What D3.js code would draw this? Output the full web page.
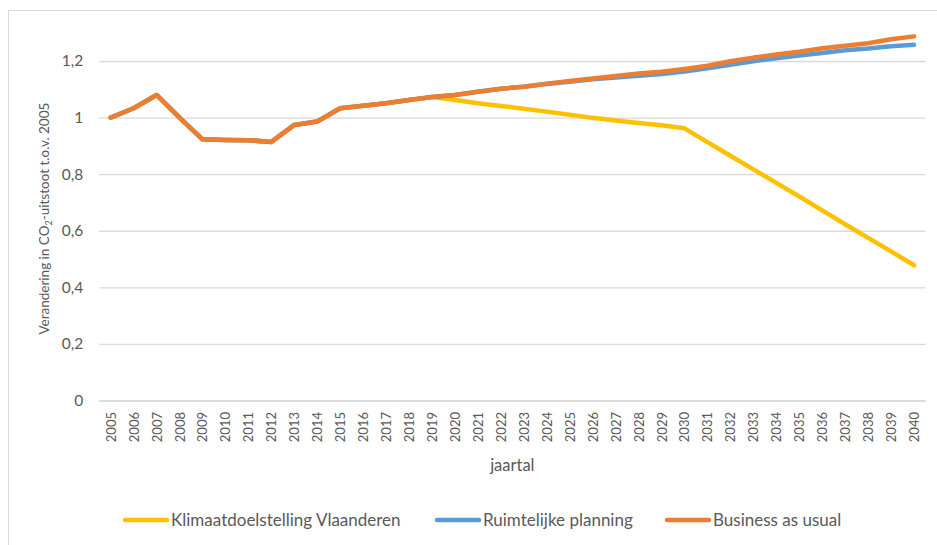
<!DOCTYPE html>
<html>
<head>
<meta charset="utf-8">
<script src="https://cdn.jsdelivr.net/npm/d3@7"></script>
<style>
  html, body { margin: 0; padding: 0; background: #fff; }
  svg { display: block; }
  text { font-family: Lato, "Open Sans", sans-serif; fill: #595959; }
</style>
</head>
<body>
<svg id="chart" width="937" height="545"></svg>
<script>
// Categories (years)
const years = [2005, 2006, 2007, 2008, 2009, 2010, 2011, 2012, 2013, 2014,
  2015, 2016, 2017, 2018, 2019, 2020, 2021, 2022, 2023, 2024,
  2025, 2026, 2027, 2028, 2029, 2030, 2031, 2032, 2033, 2034,
  2035, 2036, 2037, 2038, 2039, 2040];

// CO2 emissions relative to 2005
const klimaatdoelstelling = [1.000, 1.033, 1.080, 1.000, 0.923, 0.921, 0.920, 0.914, 0.974, 0.986,
  1.033, 1.042, 1.051, 1.062, 1.073, 1.062, 1.051, 1.041, 1.031, 1.021,
  1.010, 0.999, 0.990, 0.981, 0.973, 0.962, 0.913, 0.865, 0.817, 0.769,
  0.721, 0.672, 0.623, 0.575, 0.527, 0.478];

const ruimtelijkePlanning = [1.000, 1.033, 1.080, 1.000, 0.923, 0.921, 0.920, 0.914, 0.974, 0.986,
  1.033, 1.042, 1.051, 1.062, 1.073, 1.080, 1.091, 1.102, 1.109, 1.119,
  1.127, 1.135, 1.142, 1.148, 1.154, 1.163, 1.174, 1.187, 1.199, 1.210,
  1.219, 1.228, 1.238, 1.244, 1.252, 1.257];

const businessAsUsual = [1.000, 1.033, 1.080, 1.000, 0.923, 0.921, 0.920, 0.914, 0.974, 0.986,
  1.033, 1.042, 1.051, 1.062, 1.073, 1.080, 1.091, 1.102, 1.109, 1.120,
  1.129, 1.138, 1.147, 1.156, 1.162, 1.172, 1.183, 1.199, 1.212, 1.223,
  1.233, 1.245, 1.254, 1.263, 1.277, 1.287];

const seriesNames = ["Klimaatdoelstelling Vlaanderen", "Ruimtelijke planning", "Business as usual"];
const seriesColors = ["#FFC000", "#5B9BD5", "#ED7D31"];
const seriesValues = [klimaatdoelstelling, ruimtelijkePlanning, businessAsUsual];

// Value axis ticks
const yTicks = [0, 0.2, 0.4, 0.6, 0.8, 1.0, 1.2];
const yMax = 1.3;

const svg = d3.select("#chart");

// Chart area frame
svg.append("rect")
  .attr("x", 8.5).attr("y", 10.5)
  .attr("width", 960).attr("height", 560)
  .attr("fill", "#fff").attr("stroke", "#d9d9d9").attr("stroke-width", 1);

const plot = { left: 99.2, right: 925.5, top: 32.7, bottom: 400.5 };

const x = d3.scalePoint()
  .domain(years)
  .range([plot.left, plot.right])
  .padding(0.5);

const y = d3.scaleLinear()
  .domain([0, yMax])
  .range([plot.bottom, plot.top]);

const nl = d3.formatLocale({ decimal: ",", thousands: ".", grouping: [3], currency: ["€", ""] });
const fmt = v => (v === 0 || v === 1) ? String(v) : nl.format(".1f")(v);

// Gridlines and value labels
const yAxis = d3.axisLeft(y)
  .tickValues(yTicks)
  .tickSize(-(plot.right - plot.left))
  .tickPadding(16)
  .tickFormat(fmt);

const gy = svg.append("g")
  .attr("transform", `translate(${plot.left},0)`)
  .call(yAxis);
gy.select(".domain").remove();
gy.selectAll(".tick line").attr("stroke", "#d9d9d9").attr("stroke-width", 1.3);
gy.selectAll(".tick text")
  .attr("fill", "#595959")
  .style("font-size", "15.5px");

// Category axis
const xAxis = d3.axisBottom(x).tickSize(0).tickPadding(0);
const gx = svg.append("g")
  .attr("transform", `translate(0,${plot.bottom})`)
  .call(xAxis);
gx.select(".domain").attr("stroke", "#d9d9d9").attr("stroke-width", 1.3);
gx.selectAll(".tick text")
  .attr("fill", "#595959")
  .style("font-size", "13px")
  .attr("text-anchor", "end")
  .attr("dy", null)
  .attr("transform", "translate(4.5,11.5) rotate(-90)")
  .attr("x", 0).attr("y", 0);

// Axis titles
svg.append("text")
  .attr("x", (plot.left + plot.right) / 2)
  .attr("y", 471)
  .attr("text-anchor", "middle")
  .style("font-size", "16.5px")
  .text("jaartal");

const yTitle = svg.append("text")
  .attr("transform", `translate(49,${(plot.top + plot.bottom) / 2 + 2}) rotate(-90)`)
  .attr("text-anchor", "middle")
  .style("font-size", "13.5px");
yTitle.append("tspan").text("Verandering in CO");
yTitle.append("tspan").attr("dy", 3).style("font-size", "9px").text("2");
yTitle.append("tspan").attr("dy", -3).text("-uitstoot t.o.v. 2005");

// Series lines
const line = d3.line()
  .x((d, i) => x(years[i]))
  .y(d => y(d));

svg.append("g").selectAll("path")
  .data(seriesValues)
  .join("path")
  .attr("d", d => line(d))
  .attr("fill", "none")
  .attr("stroke", (d, i) => seriesColors[i])
  .attr("stroke-width", 4.5)
  .attr("stroke-linejoin", "round")
  .attr("stroke-linecap", "round");

// Legend
const legendX = [125, 437, 667];
const legend = svg.append("g").selectAll("g")
  .data(seriesNames)
  .join("g")
  .attr("transform", (d, i) => `translate(${legendX[i]},520)`);
legend.append("line")
  .attr("x1", 0).attr("x2", 42)
  .attr("stroke", (d, i) => seriesColors[i])
  .attr("stroke-width", 4.5)
  .attr("stroke-linecap", "round");
legend.append("text")
  .attr("x", 46)
  .attr("y", 6)
  .style("font-size", "17px")
  .text(d => d);
</script>
</body>
</html>
